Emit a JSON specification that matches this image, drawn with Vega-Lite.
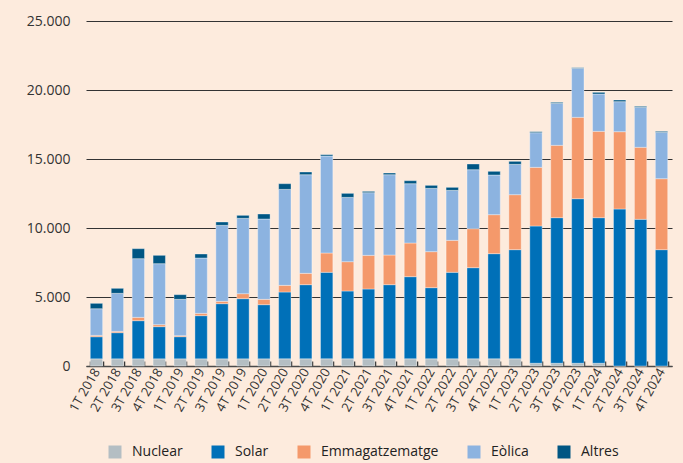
{
  "$schema": "https://vega.github.io/schema/vega-lite/v6.json",
  "width": 586,
  "height": 345,
  "autosize": {"type": "none"},
  "padding": {"left": 86, "top": 21, "right": 11, "bottom": 97},
  "background": "#fdebdd",
  "data": {
    "values": [
      {"trimestre": "1T 2018", "Nuclear": 520, "Solar": 1600, "Emmagatzematge": 100, "Eòlica": 1930, "Altres": 390},
      {"trimestre": "2T 2018", "Nuclear": 520, "Solar": 1895, "Emmagatzematge": 97, "Eòlica": 2753, "Altres": 363},
      {"trimestre": "3T 2018", "Nuclear": 520, "Solar": 2764, "Emmagatzematge": 242, "Eòlica": 4251, "Altres": 725},
      {"trimestre": "4T 2018", "Nuclear": 520, "Solar": 2330, "Emmagatzematge": 145, "Eòlica": 4420, "Altres": 604},
      {"trimestre": "1T 2019", "Nuclear": 520, "Solar": 1603, "Emmagatzematge": 75, "Eòlica": 2633, "Altres": 337},
      {"trimestre": "2T 2019", "Nuclear": 520, "Solar": 3127, "Emmagatzematge": 169, "Eòlica": 4010, "Altres": 290},
      {"trimestre": "3T 2019", "Nuclear": 520, "Solar": 3996, "Emmagatzematge": 169, "Eòlica": 5508, "Altres": 241},
      {"trimestre": "4T 2019", "Nuclear": 520, "Solar": 4359, "Emmagatzematge": 362, "Eòlica": 5459, "Altres": 217},
      {"trimestre": "1T 2020", "Nuclear": 520, "Solar": 3924, "Emmagatzematge": 387, "Eòlica": 5821, "Altres": 362},
      {"trimestre": "2T 2020", "Nuclear": 520, "Solar": 4842, "Emmagatzematge": 483, "Eòlica": 6955, "Altres": 411},
      {"trimestre": "3T 2020", "Nuclear": 520, "Solar": 5373, "Emmagatzematge": 822, "Eòlica": 7147, "Altres": 195},
      {"trimestre": "4T 2020", "Nuclear": 520, "Solar": 6268, "Emmagatzematge": 1400, "Eòlica": 7029, "Altres": 97},
      {"trimestre": "1T 2021", "Nuclear": 520, "Solar": 4914, "Emmagatzematge": 2126, "Eòlica": 4660, "Altres": 290},
      {"trimestre": "2T 2021", "Nuclear": 520, "Solar": 5059, "Emmagatzematge": 2440, "Eòlica": 4540, "Altres": 96},
      {"trimestre": "3T 2021", "Nuclear": 520, "Solar": 5373, "Emmagatzematge": 2150, "Eòlica": 5819, "Altres": 123},
      {"trimestre": "4T 2021", "Nuclear": 520, "Solar": 5953, "Emmagatzematge": 2440, "Eòlica": 4298, "Altres": 217},
      {"trimestre": "1T 2022", "Nuclear": 520, "Solar": 5156, "Emmagatzematge": 2609, "Eòlica": 4588, "Altres": 217},
      {"trimestre": "2T 2022", "Nuclear": 520, "Solar": 6268, "Emmagatzematge": 2318, "Eòlica": 3622, "Altres": 217},
      {"trimestre": "3T 2022", "Nuclear": 520, "Solar": 6605, "Emmagatzematge": 2825, "Eòlica": 4275, "Altres": 412},
      {"trimestre": "4T 2022", "Nuclear": 520, "Solar": 7620, "Emmagatzematge": 2826, "Eòlica": 2874, "Altres": 266},
      {"trimestre": "1T 2023", "Nuclear": 520, "Solar": 7910, "Emmagatzematge": 3984, "Eòlica": 2199, "Altres": 217},
      {"trimestre": "2T 2023", "Nuclear": 200, "Solar": 9944, "Emmagatzematge": 4252, "Eòlica": 2510, "Altres": 73},
      {"trimestre": "3T 2023", "Nuclear": 200, "Solar": 10548, "Emmagatzematge": 5242, "Eòlica": 3044, "Altres": 73},
      {"trimestre": "4T 2023", "Nuclear": 200, "Solar": 11924, "Emmagatzematge": 5895, "Eòlica": 3549, "Altres": 48},
      {"trimestre": "1T 2024", "Nuclear": 200, "Solar": 10548, "Emmagatzematge": 6256, "Eòlica": 2705, "Altres": 121},
      {"trimestre": "2T 2024", "Nuclear": 0, "Solar": 11376, "Emmagatzematge": 5603, "Eòlica": 2176, "Altres": 120},
      {"trimestre": "3T 2024", "Nuclear": 0, "Solar": 10628, "Emmagatzematge": 5218, "Eòlica": 2897, "Altres": 73},
      {"trimestre": "4T 2024", "Nuclear": 0, "Solar": 8430, "Emmagatzematge": 5143, "Eòlica": 3357, "Altres": 74}
    ]
  },
  "transform": [
    {"fold": ["Nuclear", "Solar", "Emmagatzematge", "Eòlica", "Altres"], "as": ["font", "valor"]},
    {
      "lookup": "font",
      "from": {
        "data": {
          "values": [
            {"font": "Nuclear", "ordre": 1},
            {"font": "Solar", "ordre": 2},
            {"font": "Emmagatzematge", "ordre": 3},
            {"font": "Eòlica", "ordre": 4},
            {"font": "Altres", "ordre": 5}
          ]
        },
        "key": "font",
        "fields": ["ordre"]
      }
    }
  ],
  "mark": {"type": "bar", "stroke": "#ffffff", "strokeOpacity": 0.35, "strokeWidth": 1},
  "encoding": {
    "x": {
      "field": "trimestre",
      "type": "nominal",
      "sort": null,
      "scale": {"paddingInner": 0.41, "paddingOuter": 0.205},
      "axis": {
        "title": null,
        "labelAngle": -60,
        "labelAlign": "right",
        "labelBaseline": "middle",
        "tickBand": "extent",
        "tickSize": -5,
        "tickColor": "#333333",
        "tickWidth": 1.5,
        "domainColor": "#4a4a4a",
        "domainWidth": 1.5,
        "labelFont": "Open Sans",
        "labelFontSize": 13,
        "labelColor": "#333333",
        "labelPadding": 8
      }
    },
    "y": {
      "field": "valor",
      "type": "quantitative",
      "stack": "zero",
      "scale": {"domain": [0, 25000]},
      "axis": {
        "title": null,
        "values": [0, 5000, 10000, 15000, 20000, 25000],
        "labelExpr": "replace(format(datum.value, ','), ',', '.')",
        "domain": false,
        "ticks": false,
        "gridColor": "#333333",
        "gridWidth": 1,
        "labelPadding": 16,
        "labelFont": "Open Sans",
        "labelFontSize": 14,
        "labelColor": "#333333"
      }
    },
    "order": {"field": "ordre", "type": "quantitative", "sort": "ascending"},
    "color": {
      "field": "font",
      "type": "nominal",
      "sort": ["Nuclear", "Solar", "Emmagatzematge", "Eòlica", "Altres"],
      "scale": {
        "domain": ["Nuclear", "Solar", "Emmagatzematge", "Eòlica", "Altres"],
        "range": ["#b4bec3", "#0070b8", "#f4996b", "#8cb3e0", "#005683"]
      },
      "legend": {
        "title": null,
        "orient": "none",
        "legendX": 22,
        "legendY": 424,
        "direction": "horizontal",
        "symbolType": "square",
        "symbolSize": 169,
        "symbolStrokeWidth": 0,
        "labelFont": "Open Sans",
        "labelFontSize": 14,
        "labelColor": "#222222",
        "labelOffset": 10,
        "columnPadding": 28
      }
    }
  },
  "config": {"view": {"stroke": null}}
}
